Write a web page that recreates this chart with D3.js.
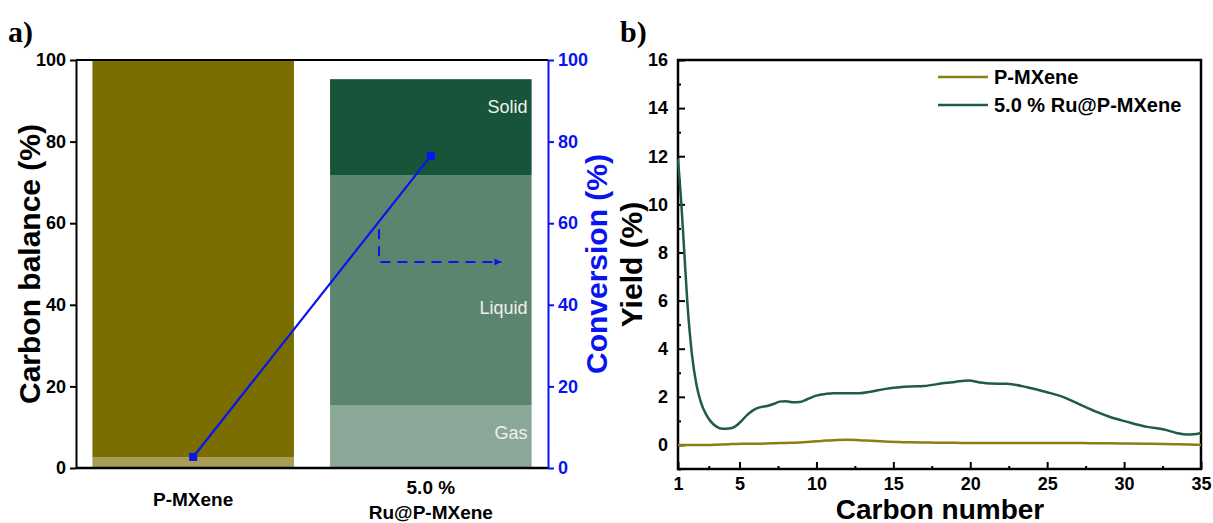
<!DOCTYPE html>
<html lang="en">
<head>
<meta charset="UTF-8">
<title>Carbon balance and yield</title>
<script src="https://d3js.org/d3.v7.min.js"></script>
<style>
  body { margin: 0; background: #fff; }
  svg { font-family: "Liberation Sans", Arial, sans-serif; font-weight: bold; }
  .panel-tag { font-family: "Liberation Serif", "Times New Roman", serif; font-weight: bold; font-size: 30px; }
</style>
</head>
<body>
<div id="chart"></div>
<script>
// panel a: carbon balance bars (stacked gas / liquid / solid) + conversion
const catalysts = ["P-MXene", "5.0 % Ru@P-MXene"];
const catalystLines = [["P-MXene"], ["5.0 %", "Ru@P-MXene"]];
const gasShare = [2.7, 15.3];
const liquidShare = [97.3, 56.5];
const solidShare = [0, 23.5];
const conversion = [2.7, 76.5];
const balanceTicks = [0, 20, 40, 60, 80, 100];

// panel b: yield by carbon number
const carbonNumbers = [1, 1.2, 1.4, 1.6, 1.9, 2.2, 2.5, 2.8, 3.1, 3.5, 3.9, 4.3, 4.7, 5.1, 5.5, 5.9, 6.3, 6.8, 7.2, 7.6, 8.0, 8.5, 8.9, 9.4, 10.0, 10.6, 11.1, 12.0, 12.8, 13.6, 14.4, 15.4, 16.1, 17.0, 18.3, 19.0, 19.9, 20.6, 21.3, 22.4, 23.7, 25.0, 26.1, 27.4, 28.3, 29.0, 30.2, 31.5, 32.6, 33.4, 34.1, 34.5, 35];
const yieldRu = [11.9, 10.2, 8.1, 6.0, 3.8, 2.5, 1.75, 1.3, 1.0, 0.76, 0.67, 0.68, 0.76, 0.98, 1.25, 1.45, 1.56, 1.62, 1.7, 1.8, 1.82, 1.77, 1.78, 1.9, 2.05, 2.12, 2.15, 2.15, 2.15, 2.22, 2.32, 2.4, 2.43, 2.45, 2.57, 2.62, 2.68, 2.6, 2.55, 2.54, 2.4, 2.19, 1.98, 1.6, 1.35, 1.18, 0.96, 0.75, 0.64, 0.5, 0.43, 0.44, 0.5];
const yieldP = [0, 0, 0, 0, 0, 0, 0, 0, 0, 0.01, 0.02, 0.03, 0.04, 0.05, 0.05, 0.05, 0.05, 0.06, 0.07, 0.08, 0.08, 0.09, 0.1, 0.12, 0.15, 0.18, 0.2, 0.22, 0.2, 0.17, 0.14, 0.12, 0.11, 0.1, 0.09, 0.09, 0.08, 0.08, 0.08, 0.08, 0.08, 0.08, 0.08, 0.08, 0.07, 0.07, 0.06, 0.05, 0.04, 0.03, 0.02, 0.01, 0];
const yieldTicks = [0, 2, 4, 6, 8, 10, 12, 14, 16];
const carbonTicks = [1, 5, 10, 15, 20, 25, 30, 35];
const carbonMinor = [3, 7.5, 12.5, 17.5, 22.5, 27.5, 32.5];

const width = 1213, height = 523;
const svg = d3.select("#chart").append("svg")
  .attr("width", width).attr("height", height)
  .attr("viewBox", [0, 0, width, height]);

const tickFont = g => g.selectAll("text")
  .style("font-size", "18px")
  .style("font-family", "Liberation Sans, Arial")
  .style("font-weight", "bold");

// ---------- panel a ----------
const aLeft = 76, aRight = 548, aTop = 60, aBottom = 468;
const blue = "#0a14f0";

const x = d3.scaleBand().domain(catalysts).range([aLeft, aRight]).paddingInner(0.152).paddingOuter(0.069);
const y = d3.scaleLinear().domain([0, 100]).range([aBottom, aTop]);
const yConv = d3.scaleLinear().domain([0, 100]).range([aBottom, aTop]);

const parts = [
  { key: "Gas", values: gasShare, colors: ["#a99c55", "#8aa797"], dy: 33 },
  { key: "Liquid", values: liquidShare, colors: ["#7b6e00", "#5c8570"], dy: 139 },
  { key: "Solid", values: solidShare, colors: ["#7b6e00", "#17543a"], dy: 34 }
];

catalysts.forEach((c, i) => {
  let base = 0;
  parts.forEach(p => {
    const v = p.values[i];
    if (v > 0) {
      svg.append("rect")
        .attr("x", x(c))
        .attr("width", x.bandwidth())
        .attr("y", y(base + v))
        .attr("height", y(base) - y(base + v))
        .attr("fill", p.colors[i]);
      if (i === 1) {
        svg.append("text")
          .attr("x", x(c) + x.bandwidth() - 4)
          .attr("y", y(base + v) + p.dy)
          .attr("text-anchor", "end")
          .attr("fill", "#eef2ef")
          .style("font-weight", "normal")
          .style("font-size", "18px")
          .text(p.key);
      }
    }
    base += v;
  });
});

// left axis
svg.append("g")
  .attr("transform", `translate(${aLeft},0)`)
  .call(d3.axisLeft(y).tickValues(balanceTicks).tickSize(6).tickSizeOuter(0).tickPadding(4))
  .call(g => g.selectAll("path, line").attr("stroke", "#000").attr("stroke-width", 2))
  .call(tickFont);

// bottom axis + top border
svg.append("line").attr("x1", aLeft).attr("x2", aRight).attr("y1", aBottom).attr("y2", aBottom)
  .attr("stroke", "#000").attr("stroke-width", 2.5);
svg.append("line").attr("x1", aLeft).attr("x2", aRight).attr("y1", aTop).attr("y2", aTop)
  .attr("stroke", "#000").attr("stroke-width", 2);

catalystLines.forEach((lines, i) => {
  const cx = x(catalysts[i]) + x.bandwidth() / 2;
  lines.forEach((t, j) => {
    svg.append("text")
      .attr("x", cx)
      .attr("y", (lines.length === 1 ? 506 : 494) + j * 25)
      .attr("text-anchor", "middle")
      .style("font-size", "19px")
      .text(t);
  });
});

// right axis (conversion)
svg.append("g")
  .attr("transform", `translate(${aRight},0)`)
  .call(d3.axisRight(yConv).tickValues(balanceTicks).tickSize(6).tickSizeOuter(0).tickPadding(4))
  .call(g => g.selectAll("path, line").attr("stroke", blue).attr("stroke-width", 2))
  .call(tickFont)
  .call(g => g.selectAll("text").attr("fill", blue));

// axis titles
svg.append("text")
  .attr("transform", `translate(40,${(aTop + aBottom) / 2}) rotate(-90)`)
  .attr("text-anchor", "middle")
  .style("font-size", "30px")
  .text("Carbon balance (%)");
svg.append("text")
  .attr("transform", `translate(607,${(aTop + aBottom) / 2}) rotate(-90)`)
  .attr("text-anchor", "middle")
  .attr("fill", blue)
  .style("font-size", "30px")
  .text("Conversion (%)");

// conversion line
const convPts = catalysts.map((c, i) => [x(c) + x.bandwidth() / 2, yConv(conversion[i])]);
svg.append("path")
  .attr("d", d3.line()(convPts))
  .attr("fill", "none").attr("stroke", blue).attr("stroke-width", 2.2);
svg.selectAll(".conv-pt").data(convPts).join("rect")
  .attr("x", d => d[0] - 4).attr("y", d => d[1] - 4)
  .attr("width", 8).attr("height", 8).attr("fill", blue);

// dashed arrow pointing to right axis
svg.append("defs").append("marker")
  .attr("id", "arrow").attr("viewBox", "0 0 10 10")
  .attr("refX", 10).attr("refY", 5)
  .attr("markerWidth", 12).attr("markerHeight", 7)
  .attr("markerUnits", "userSpaceOnUse")
  .attr("orient", "auto")
  .append("path").attr("d", "M0,0L10,5L0,10Z").attr("fill", blue);
const arrowX0 = x(catalysts[1]) + x.bandwidth() * 0.243;
const arrowX1 = x(catalysts[1]) + x.bandwidth() * 0.85;
svg.append("path")
  .attr("d", `M${arrowX0},${yConv(58.5)}V${yConv(50.5)}H${arrowX1}`)
  .attr("fill", "none").attr("stroke", blue).attr("stroke-width", 2)
  .attr("stroke-dasharray", "10,7")
  .attr("marker-end", "url(#arrow)");

svg.append("text").attr("class", "panel-tag").attr("x", 8).attr("y", 42).text("a)");

// ---------- panel b ----------
const bLeft = 678, bRight = 1201, bTop = 60, bBottom = 469;
const xb = d3.scaleLinear().domain([1, 35]).range([bLeft, bRight]);
const yb = d3.scaleLinear().domain([-1, 16]).range([bBottom, bTop]);

const gx = svg.append("g").attr("transform", `translate(0,${bBottom})`);
gx.call(d3.axisBottom(xb).tickValues(carbonMinor).tickSize(-3).tickFormat(""))
  .call(g => g.select(".domain").remove());
gx.append("g")
  .call(d3.axisBottom(xb).tickValues(carbonTicks).tickSize(-7).tickSizeOuter(0).tickPadding(8))
  .call(g => g.select(".domain").remove());
gx.selectAll("line").attr("stroke", "#000").attr("stroke-width", 2);
gx.call(tickFont);

const gy = svg.append("g").attr("transform", `translate(${bLeft},0)`);
gy.call(d3.axisLeft(yb).tickValues(d3.range(-1, 16, 2)).tickSize(-3).tickFormat(""))
  .call(g => g.select(".domain").remove());
gy.append("g")
  .call(d3.axisLeft(yb).tickValues(yieldTicks).tickSize(-7).tickSizeOuter(0).tickPadding(10))
  .call(g => g.select(".domain").remove());
gy.selectAll("line").attr("stroke", "#000").attr("stroke-width", 2);
gy.call(tickFont);

svg.append("rect")
  .attr("x", bLeft).attr("y", bTop)
  .attr("width", bRight - bLeft).attr("height", bBottom - bTop)
  .attr("fill", "none").attr("stroke", "#000").attr("stroke-width", 2.5);

const series = [
  { name: "P-MXene", values: yieldP, color: "#8c7e14" },
  { name: "5.0 % Ru@P-MXene", values: yieldRu, color: "#1f5c43" }
];
const lineB = d3.line()
  .x((d, i) => xb(carbonNumbers[i]))
  .y(d => yb(d))
  .curve(d3.curveMonotoneX);

series.forEach(s => {
  svg.append("path")
    .datum(s.values)
    .attr("d", lineB)
    .attr("fill", "none")
    .attr("stroke", s.color)
    .attr("stroke-width", 2.5);
});

const legend = svg.append("g").attr("transform", "translate(938,77)");
series.forEach((s, i) => {
  legend.append("line")
    .attr("x1", 0).attr("x2", 50)
    .attr("y1", i * 28).attr("y2", i * 28)
    .attr("stroke", s.color).attr("stroke-width", 2.5);
  legend.append("text")
    .attr("x", 56).attr("y", i * 28 + 7)
    .style("font-size", "20px")
    .text(s.name);
});

svg.append("text")
  .attr("x", 940).attr("y", 519)
  .attr("text-anchor", "middle")
  .style("font-size", "28px")
  .text("Carbon number");
svg.append("text")
  .attr("transform", `translate(642,${(bTop + bBottom) / 2}) rotate(-90)`)
  .attr("text-anchor", "middle")
  .style("font-size", "30px")
  .text("Yield (%)");

svg.append("text").attr("class", "panel-tag").attr("x", 620).attr("y", 42).text("b)");
</script>
</body>
</html>
